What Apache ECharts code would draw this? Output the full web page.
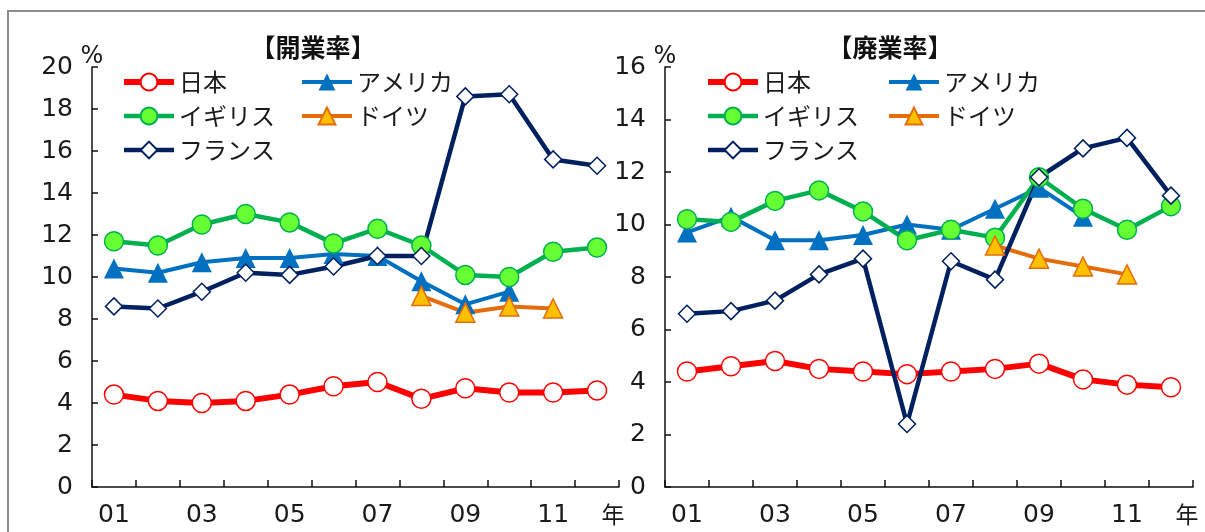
<!DOCTYPE html>
<html>
<head>
<meta charset="utf-8">
<script src="https://cdn.jsdelivr.net/npm/echarts@6/dist/echarts.min.js"></script>
<style>
  html, body { margin: 0; padding: 0; background: #fff; }
  #chart { width: 1205px; height: 532px; }
</style>
</head>
<body>
<div id="chart"></div>
<script>
// Years 2001–2012 and the labels shown under the axis
const years = ['2001','2002','2003','2004','2005','2006','2007','2008','2009','2010','2011','2012'];
const xLabels = ['01','','03','','05','','07','','09','','11','年'];

const seriesNames = ['日本', 'アメリカ', 'イギリス', 'ドイツ', 'フランス'];

// 開業率 (%)
const openJapan   = [4.4, 4.1, 4.0, 4.1, 4.4, 4.8, 5.0, 4.2, 4.7, 4.5, 4.5, 4.6];
const openUSA     = [10.4, 10.2, 10.7, 10.9, 10.9, 11.1, 11.0, 9.8, 8.7, 9.3, null, null];
const openUK      = [11.7, 11.5, 12.5, 13.0, 12.6, 11.6, 12.3, 11.5, 10.1, 10.0, 11.2, 11.4];
const openGermany = [null, null, null, null, null, null, null, 9.1, 8.3, 8.6, 8.5, null];
const openFrance  = [8.6, 8.5, 9.3, 10.2, 10.1, 10.5, 11.0, 11.0, 18.6, 18.7, 15.6, 15.3];

// 廃業率 (%)
const closeJapan   = [4.4, 4.6, 4.8, 4.5, 4.4, 4.3, 4.4, 4.5, 4.7, 4.1, 3.9, 3.8];
const closeUSA     = [9.7, 10.3, 9.4, 9.4, 9.6, 10.0, 9.8, 10.6, 11.4, 10.3, null, null];
const closeUK      = [10.2, 10.1, 10.9, 11.3, 10.5, 9.4, 9.8, 9.5, 11.8, 10.6, 9.8, 10.7];
const closeGermany = [null, null, null, null, null, null, null, 9.2, 8.7, 8.4, 8.1, null];
const closeFrance  = [6.6, 6.7, 7.1, 8.1, 8.7, 2.4, 8.6, 7.9, 11.8, 12.9, 13.3, 11.1];

const FONT = '"Noto Sans CJK JP", "Noto Sans", sans-serif';
const NUM_FONT = '"DejaVu Sans", "Noto Sans CJK JP", sans-serif';
const TEXT = '#1a1a1a';

// Look of each country's line and marker
const styles = {
  '日本':   { color: '#ff0000', width: 6, symbol: 'circle',   size: 19, fill: '#ffffff', border: '#ff0000', bw: 1.5 },
  'アメリカ': { color: '#0070c0', width: 4, symbol: 'triangle', size: 20, fill: '#0070c0', border: '#0070c0', bw: 0 },
  'イギリス': { color: '#00b050', width: 4.5, symbol: 'circle', size: 19, fill: '#66ff33', border: '#00b050', bw: 1.5 },
  'ドイツ':  { color: '#e46c0a', width: 4, symbol: 'triangle', size: 19, fill: '#ffc000', border: '#e46c0a', bw: 1.5 },
  'フランス': { color: '#002060', width: 4.5, symbol: 'diamond', size: 17, fill: '#ffffff', border: '#002060', bw: 1.5 }
};

function makeSeries(name, data, idx) {
  const s = styles[name];
  return {
    name: name,
    type: 'line',
    xAxisIndex: idx,
    yAxisIndex: idx,
    data: data,
    symbol: s.symbol,
    symbolSize: s.size,
    showAllSymbol: true,
    connectNulls: false,
    lineStyle: { color: s.color, width: s.width },
    itemStyle: { color: s.fill, borderColor: s.border, borderWidth: s.bw },
    emphasis: { disabled: true },
    animation: false
  };
}

function xAxis(gridIndex) {
  return {
    type: 'category',
    gridIndex: gridIndex,
    data: years,
    boundaryGap: true,
    axisLine: { lineStyle: { color: '#111', width: 1.5 } },
    axisTick: { show: true, inside: true, length: 7, interval: 0, lineStyle: { color: '#111', width: 1.5 } },
    axisLabel: {
      interval: function (i) { return xLabels[i] !== ''; },
      formatter: function (v, i) { return i === years.length - 1 ? '{y|' + xLabels[i] + '}' : xLabels[i]; },
      color: TEXT, fontFamily: NUM_FONT, fontSize: 25, margin: 16,
      rich: { y: { fontFamily: FONT, fontSize: 23, color: TEXT, padding: [0, 0, 0, 32] } }
    },
    splitLine: { show: false }
  };
}

function yAxis(gridIndex, max) {
  return {
    type: 'value',
    gridIndex: gridIndex,
    min: 0, max: max, interval: 2,
    name: '%',
    nameLocation: 'end',
    nameGap: -2,
    nameTextStyle: { color: TEXT, fontFamily: NUM_FONT, fontSize: 24 },
    axisLine: { show: true, lineStyle: { color: '#111', width: 1.5 } },
    axisTick: { show: true, inside: true, length: 6, lineStyle: { color: '#111', width: 1.5 } },
    axisLabel: { color: TEXT, fontFamily: NUM_FONT, fontSize: 25, margin: 19 },
    splitLine: { show: false }
  };
}

function legend(left, names) {
  return {
    orient: 'vertical',
    left: left, top: 70,
    padding: 0,
    itemWidth: 50, itemHeight: 21, itemGap: 10,
    data: names,
    lineStyle: { width: 'inherit' },
    textStyle: { color: TEXT, fontFamily: FONT, fontSize: 24 },
    selectedMode: false
  };
}

const openData  = [openJapan, openUSA, openUK, openGermany, openFrance];
const closeData = [closeJapan, closeUSA, closeUK, closeGermany, closeFrance];

const series = [];
seriesNames.forEach(function (n, i) { series.push(makeSeries(n, openData[i], 0)); });
seriesNames.forEach(function (n, i) { series.push(makeSeries(n, closeData[i], 1)); });

const chart = echarts.init(document.getElementById('chart'), null, { renderer: 'canvas' });
chart.setOption({
  backgroundColor: '#ffffff',
  animation: false,
  grid: [
    { left: 92, top: 67, width: 527, height: 420 },
    { left: 665, top: 67, width: 528, height: 420 }
  ],
  xAxis: [xAxis(0), xAxis(1)],
  yAxis: [yAxis(0, 20), yAxis(1, 16)],
  legend: [
    legend(121, ['日本', 'イギリス', 'フランス']),
    legend(300, ['アメリカ', 'ドイツ']),
    legend(705, ['日本', 'イギリス', 'フランス']),
    legend(887, ['アメリカ', 'ドイツ'])
  ],
  graphic: [
    { type: 'rect', z: -10, silent: true,
      shape: { x: 8, y: 11, width: 1220, height: 540 },
      style: { fill: 'none', stroke: '#8c8c8c', lineWidth: 2 } },
    { type: 'text', x: 313, y: 47, silent: true,
      style: { text: '【開業率】', fill: '#111', font: 'bold 25px ' + FONT, align: 'center', verticalAlign: 'middle' } },
    { type: 'text', x: 890, y: 47, silent: true,
      style: { text: '【廃業率】', fill: '#111', font: 'bold 25px ' + FONT, align: 'center', verticalAlign: 'middle' } }
  ],
  series: series
});
</script>
</body>
</html>
